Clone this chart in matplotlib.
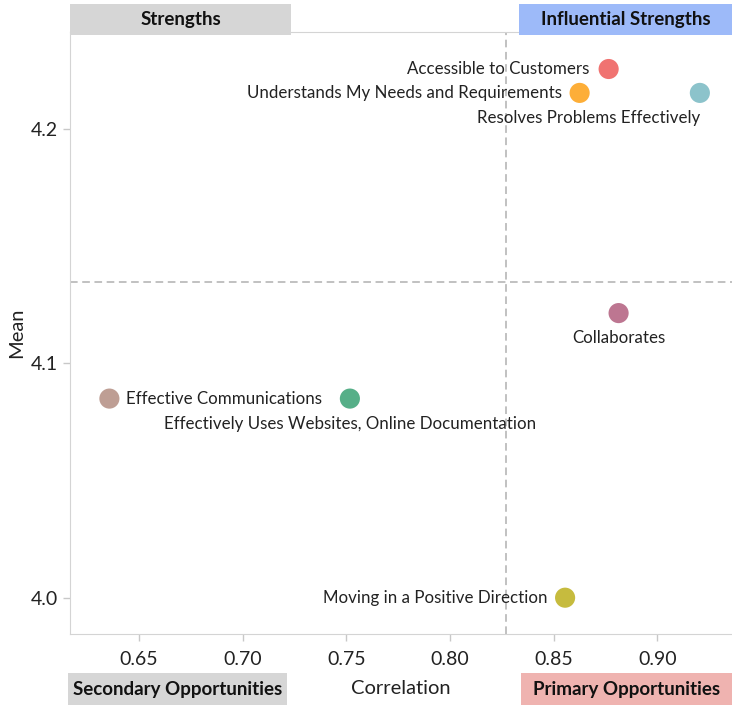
import matplotlib.pyplot as plt
from matplotlib.patches import Rectangle

plt.rcParams['font.family'] = ['Lato', 'DejaVu Sans']

names = ['Accessible to Customers', 'Understands My Needs and Requirements',
         'Resolves Problems Effectively', 'Collaborates', 'Effective Communications',
         'Effectively Uses Websites, Online Documentation', 'Moving in a Positive Direction']
correlation = [0.8765, 0.8625, 0.9205, 0.8813, 0.6357, 0.7517, 0.8555]
mean = [4.2257, 4.2155, 4.2155, 4.1215, 4.0850, 4.0850, 4.0000]
colors = ['#F07371', '#FDAE38', '#8CC3CB', '#BD7691', '#BE9E94', '#56AF88', '#C6BB3E']
# label placement: (dx px, dy px, ha)
placement = [(-19, 0, 'right'), (-18, 0, 'right'), (0, -25, 'right'), (0, -25, 'center'),
             (17, 0, 'left'), (0, -25, 'center'), (-18, 0, 'right')]

x_ticks = [0.65, 0.70, 0.75, 0.80, 0.85, 0.90]
y_ticks = [4.0, 4.1, 4.2]
x_split = 0.827
y_split = 4.1348

fig = plt.figure(figsize=(7.32, 7.05), dpi=100)
W, H = 732, 705
ax = fig.add_axes([70 / W, 1 - 634 / H, 662 / W, 602 / H])
ax.set_xlim(0.6167, 0.936)
ax.set_ylim(3.9845, 4.2415)

ax.axvline(x_split, color='#b0b0b0', ls=(0, (5, 3)), lw=1.1, zorder=1)
ax.axhline(y_split, color='#b0b0b0', ls=(0, (5, 3)), lw=1.1, zorder=1)

ax.scatter(correlation, mean, s=210, c=colors, edgecolors='none', zorder=3)
for n, x, y, (dx, dy, ha) in zip(names, correlation, mean, placement):
    ax.annotate(n, (x, y), xytext=(dx, dy), textcoords='offset pixels',
                ha=ha, va='center', fontsize=12.2, color='#222222', zorder=4)

ax.set_xticks(x_ticks)
ax.set_xticklabels([f'{v:.2f}' for v in x_ticks])
ax.set_yticks(y_ticks)
ax.set_yticklabels([f'{v:.1f}' for v in y_ticks])
ax.tick_params(axis='both', colors='#c8c8c8', labelcolor='#222222', labelsize=14, length=5, width=1)
ax.tick_params(axis='x', pad=7)
for side in ['left', 'top', 'bottom']:
    ax.spines[side].set_color('#d4d4d4')
ax.spines['right'].set_visible(False)

ax.set_xlabel('Correlation', fontsize=14.5, color='#222222', labelpad=9)
ax.set_ylabel('Mean', fontsize=14.5, color='#222222', labelpad=4)

# quadrant caption boxes (pixel positions from the top-left corner)
boxes = [('Strengths', 70, 4, 291, 35, '#D6D6D6'),
         ('Influential Strengths', 519, 4, 732, 35, '#9DBAF9'),
         ('Secondary Opportunities', 68, 673, 287, 705, '#D6D6D6'),
         ('Primary Opportunities', 521, 673, 732, 705, '#EFB3B0')]
for text, x0, y0, x1, y1, col in boxes:
    fig.patches.append(Rectangle((x0 / W, 1 - y1 / H), (x1 - x0) / W, (y1 - y0) / H,
                                 transform=fig.transFigure, facecolor=col, edgecolor='none', zorder=5))
    fig.text((x0 + x1) / 2 / W, 1 - (y0 + y1) / 2 / H, text, ha='center', va='center',
             fontsize=13.5, fontweight='bold', color='#111111', zorder=6)

fig.savefig('out.png', dpi=100)
